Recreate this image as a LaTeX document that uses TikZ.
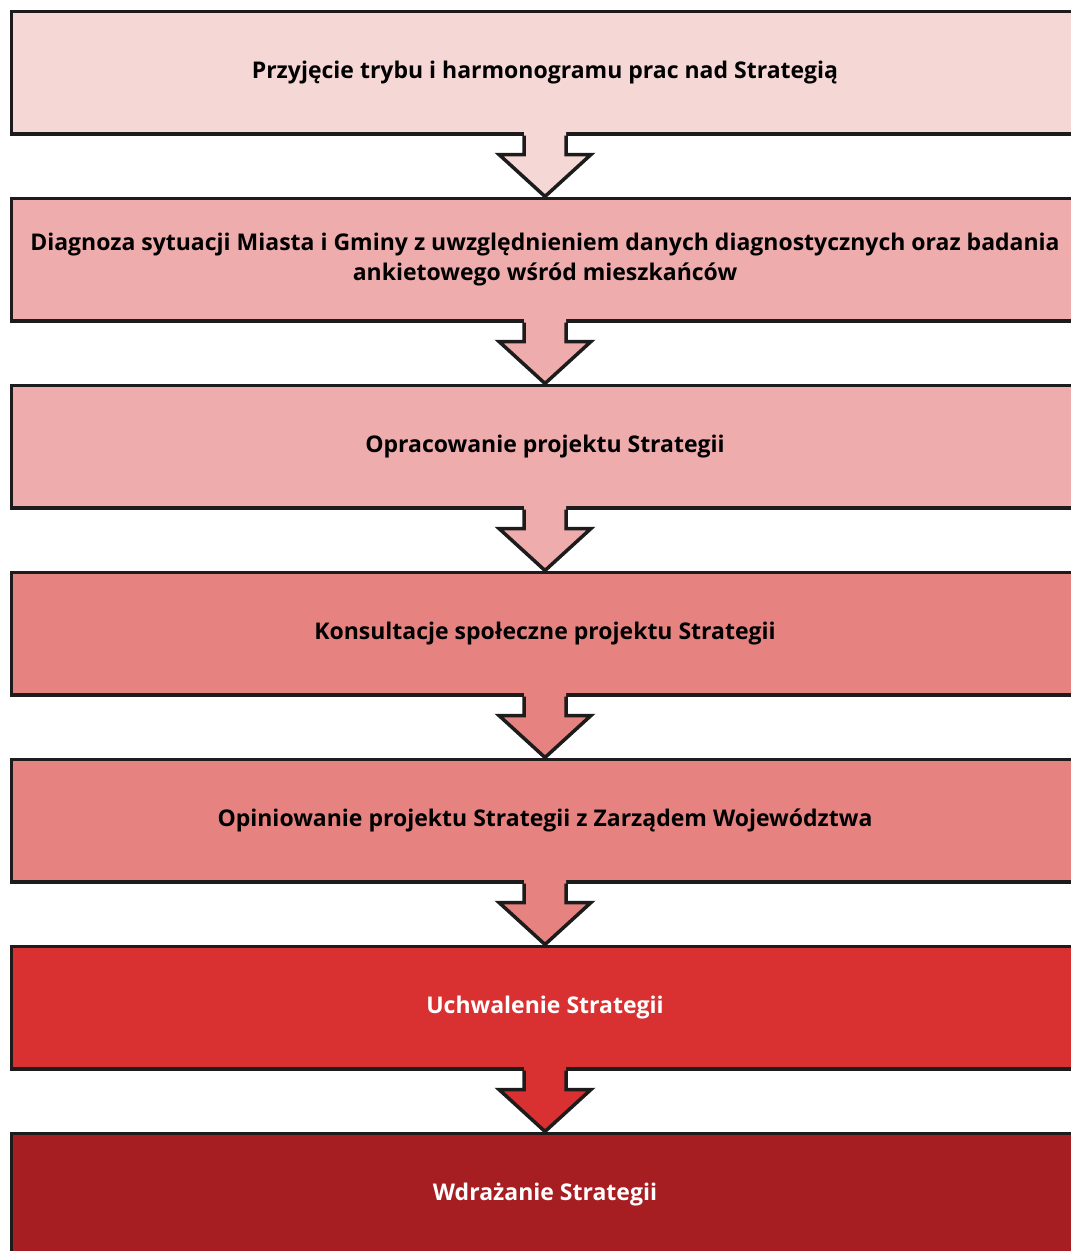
\documentclass[tikz,border=0pt]{standalone}
\usepackage{fontspec}
\setmainfont{Open Sans}
\usepackage{xcolor}
\definecolor{stageA}{RGB}{245,215,214}
\definecolor{stageB}{RGB}{239,172,172}
\definecolor{stageC}{RGB}{230,131,128}
\definecolor{stageD}{RGB}{217,49,49}
\definecolor{stageE}{RGB}{166,30,33}
\definecolor{edge}{RGB}{28,28,28}
\usetikzlibrary{calc}
\tikzset{stage/.style={draw=edge,line width=3.5pt,minimum width=1067pt,minimum height=122.5pt,
  align=center,inner sep=0pt,font=\fontsize{23}{30}\selectfont\bfseries}}
\newcommand{\stagearrow}[3]{%
\fill[#3] ($(#1.south)+(-21,-6)$) -- ($(#1.south)+(-21,19)$) -- ($(#1.south)+(-46,19)$) -- (#2.north)
  -- ($(#1.south)+(46,19)$) -- ($(#1.south)+(21,19)$) -- ($(#1.south)+(21,-6)$) -- cycle;
\draw[edge,line width=3.5pt] ($(#1.south)+(-21,0)$) -- ($(#1.south)+(-21,19)$) -- ($(#1.south)+(-46,19)$) -- (#2.north)
  -- ($(#1.south)+(46,19)$) -- ($(#1.south)+(21,19)$) -- ($(#1.south)+(21,0)$);}

\begin{document}
\begin{tikzpicture}[x=1pt,y=-1pt]
\useasboundingbox[fill=white] (0,0) rectangle (1071,1251);
\node[stage,fill=stageA] (s1) at (545,72.5) {Przyjęcie trybu i harmonogramu prac nad Strategią};
\node[stage,fill=stageB] (s2) at (545,259.5) {Diagnoza sytuacji Miasta i Gminy z uwzględnieniem danych diagnostycznych oraz badania\\ankietowego wśród mieszkańców};
\node[stage,fill=stageB] (s3) at (545,446.5) {Opracowanie projektu Strategii};
\node[stage,fill=stageC] (s4) at (545,633.5) {Konsultacje społeczne projektu Strategii};
\node[stage,fill=stageC] (s5) at (545,820.5) {Opiniowanie projektu Strategii z Zarządem Województwa};
\node[stage,fill=stageD,text=white] (s6) at (545,1007.5) {Uchwalenie Strategii};
\node[stage,fill=stageE,text=white] (s7) at (545,1194.5) {Wdrażanie Strategii};
\stagearrow{s1}{s2}{stageA}
\stagearrow{s2}{s3}{stageB}
\stagearrow{s3}{s4}{stageB}
\stagearrow{s4}{s5}{stageC}
\stagearrow{s5}{s6}{stageC}
\stagearrow{s6}{s7}{stageD}
\end{tikzpicture}
\end{document}
